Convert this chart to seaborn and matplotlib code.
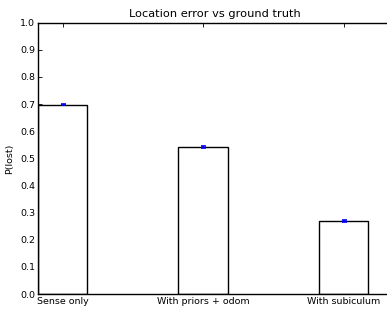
import pandas as pd
import matplotlib
matplotlib.use("Agg")
import matplotlib.pyplot as plt
import seaborn as sns

# values
conditions = ["Sense only", "With priors + odom", "With subiculum"]
p_lost = [0.698, 0.542, 0.269]
p_lost_err = [0.002, 0.002, 0.002]

df = pd.DataFrame({"condition": conditions, "p_lost": p_lost})

sns.set_style("ticks")
plt.rcParams["font.family"] = ["DejaVu Sans"]
plt.rcParams["text.color"] = "black"
plt.rcParams["axes.labelcolor"] = "black"
plt.rcParams["xtick.color"] = "black"
plt.rcParams["ytick.color"] = "black"

fig = plt.figure(figsize=(3.87, 3.09), dpi=100)
ax = fig.add_axes([0.098, 0.0485, 0.912, 0.878])

sns.barplot(
    data=df, x="condition", y="p_lost",
    color="white", edgecolor="black", linewidth=1.0,
    width=0.35, errorbar=None, ax=ax,
)
for bar in ax.patches:
    bar.set_facecolor("white")

ax.errorbar(
    range(len(conditions)), p_lost, yerr=p_lost_err,
    fmt="none", ecolor="blue", elinewidth=1.2, capsize=1.8, capthick=1.2,
)

ax.set_xlim(-0.175, 2.337)
ax.set_ylim(0, 1.0)
ax.set_yticks([i / 10 for i in range(11)])
ax.set_title("Location error vs ground truth", fontsize=8.2, pad=4, color="black")
ax.set_ylabel("P(lost)", fontsize=6.8, labelpad=4)
ax.set_xlabel("")

for side in ["top", "right", "left", "bottom"]:
    ax.spines[side].set_visible(True)
    ax.spines[side].set_color("black")
    ax.spines[side].set_linewidth(1.0)

ax.tick_params(direction="in", length=3, width=0.6, labelsize=6.8,
               top=True, right=True, pad=2)

fig.savefig("out.png", dpi=100)
